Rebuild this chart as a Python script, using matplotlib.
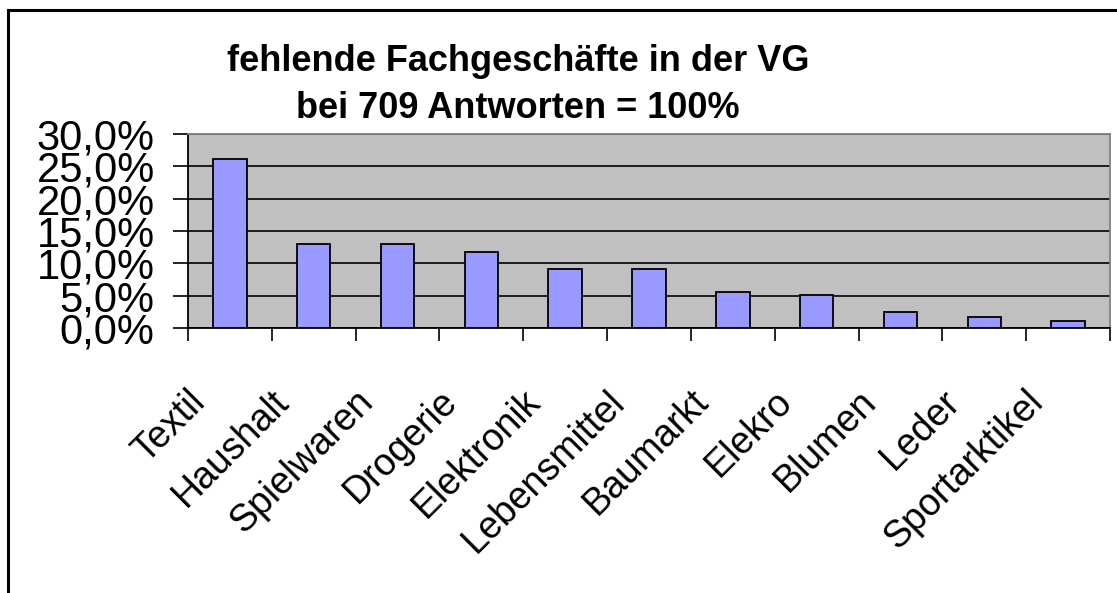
#!/usr/bin/env python3
import numpy as np
import matplotlib
matplotlib.use("Agg")
import matplotlib.pyplot as plt
from matplotlib.lines import Line2D
from matplotlib.ticker import FuncFormatter
from matplotlib.transforms import ScaledTranslation

# data (share of 709 answers, in %)
categories = ["Textil", "Haushalt", "Spielwaren", "Drogerie", "Elektronik",
              "Lebensmittel", "Baumarkt", "Elekro", "Blumen", "Leder", "Sportarktikel"]
shares = [26.2, 13.0, 13.0, 11.7, 9.2, 9.2, 5.5, 5.1, 2.4, 1.7, 1.1]
y_ticks = [0, 5, 10, 15, 20, 25, 30]
title = "fehlende Fachgeschäfte in der VG\nbei 709 Antworten = 100%"

plt.rcParams["font.family"] = ["Liberation Sans", "DejaVu Sans"]

W, H = 1117, 593
fig = plt.figure(figsize=(W / 100, H / 100), dpi=100)
fig.patch.set_facecolor("white")

# plot area in pixels: x 188..1110, y 134..328
ax = fig.add_axes([188 / W, 1 - 328 / H, (1110 - 188) / W, (328 - 134) / H])
ax.set_facecolor("#C0C0C0")

x = np.arange(len(categories))
ax.bar(x, shares, width=0.4, color="#9999FF", edgecolor="black", linewidth=1.3, zorder=3)

ax.set_xlim(-0.5, len(categories) - 0.5)
ax.set_ylim(0, 30)
ax.set_yticks(y_ticks)
ax.yaxis.set_major_formatter(FuncFormatter(lambda v, _: f"{v:.1f}%".replace(".", ",")))
ax.tick_params(axis="y", direction="out", length=11, width=1.2, labelsize=30, pad=13)
ax.grid(axis="y", color="black", linewidth=1.2, zorder=1)

# category labels at centres, tick marks between categories
ax.set_xticks(x)
ax.set_xticklabels(categories, rotation=45, ha="right", va="center",
                   rotation_mode="anchor", fontsize=27)
ax.tick_params(axis="x", which="major", length=0, pad=0)
ax.set_xticks(np.arange(-0.5, len(categories)), minor=True)
ax.tick_params(axis="x", which="minor", direction="out", length=9, width=1.2)
shift = ScaledTranslation(-0.30, -0.68, fig.dpi_scale_trans)
for lbl in ax.get_xticklabels():
    lbl.set_transform(lbl.get_transform() + shift)

for side in ("left", "bottom"):
    ax.spines[side].set_color("black")
    ax.spines[side].set_linewidth(1.3)
for side in ("top", "right"):
    ax.spines[side].set_color("#808080")
    ax.spines[side].set_linewidth(1.3)

fig.text(518 / W, 1 - 85 / H, title, ha="center", va="center",
         fontsize=26, fontweight="bold", linespacing=1.45)

# outer chart border (left and top edges visible)
fig.add_artist(Line2D([7.5 / W, 7.5 / W], [-0.01, 1 - 10 / H], color="black", linewidth=2.2))
fig.add_artist(Line2D([7.5 / W, 1.01], [1 - 10 / H, 1 - 10 / H], color="black", linewidth=2.2))

fig.savefig("out.png", dpi=100)
